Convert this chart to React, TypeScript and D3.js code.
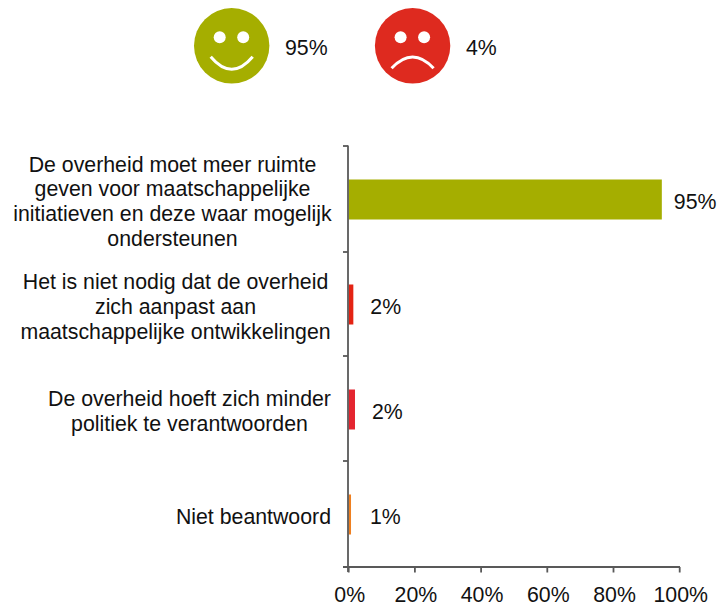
import React from "react";
import * as d3 from "d3";

const categories = ["q1", "q2", "q3", "q4"];
const values = [94.6, 1.4, 1.9, 0.7];
const valueLabels = ["95%", "2%", "2%", "1%"];
const labelOffsets = [12, 17, 17, 19];
const barColors = ["#a5ae00", "#e42313", "#e42530", "#ee7f20"];
const categoryLines = [
  ["De overheid moet meer ruimte", "geven voor maatschappelijke", "initiatieven en deze waar mogelijk", "ondersteunen"],
  ["Het is niet nodig dat de overheid", "zich aanpast aan", "maatschappelijke ontwikkelingen"],
  ["De overheid hoeft zich minder", "politiek te verantwoorden"],
  ["Niet beantwoord"],
];
const categoryLineCenters = [172.5, 175.5, 189.5, 0];
const xTicks = [0, 20, 40, 60, 80, 100];
const yEdges = [146, 252, 356, 461, 567];
const smileys = [
  { label: "95%", color: "#a5ae00", happy: true, cx: 231.7, cy: 45.8, tx: 285 },
  { label: "4%", color: "#de2a1f", happy: false, cx: 412.6, cy: 45.8, tx: 466 },
];

const font = "'Liberation Sans', Arial, sans-serif";
const axisColor = "#595959";
const fs = 21.3;

export default function App() {
  const x = d3.scaleLinear().domain([0, 100]).range([348.7, 679.7]);
  const y = d3.scaleBand().domain(categories).range([147, 567]).paddingInner(0).paddingOuter(0);
  const barH = 40;

  return (
    <svg width={719} height={605} style={{ position: "absolute", left: 0, top: 0, background: "#fff" }} fontFamily={font}>
      {smileys.map((s) => (
        <g key={s.label}>
          <circle cx={s.cx} cy={s.cy} r={37.7} fill={s.color} />
          <circle cx={s.cx - 12} cy={s.cy - 8.5} r={6} fill="#fff" />
          <circle cx={s.cx + 11.5} cy={s.cy - 8.5} r={6} fill="#fff" />
          <path
            d={
              s.happy
                ? `M${s.cx - 21},${s.cy + 11} Q${s.cx},${s.cy + 36} ${s.cx + 21},${s.cy + 11}`
                : `M${s.cx - 21},${s.cy + 22.5} Q${s.cx},${s.cy + 0} ${s.cx + 21},${s.cy + 22.5}`
            }
            fill="none"
            stroke="#fff"
            strokeWidth={3}
          />
          <text x={s.tx} y={s.cy + 9} fontSize={fs} fill="#111">{s.label}</text>
        </g>
      ))}

      {categories.map((c, i) => {
        const mid = (y(c) as number) + y.bandwidth() / 2;
        return (
          <g key={c}>
            <rect x={x(0)} y={mid - barH / 2} width={x(values[i]) - x(0)} height={barH} fill={barColors[i]} />
            <text x={x(values[i]) + labelOffsets[i]} y={mid + 9.2} fontSize={fs} fill="#111">{valueLabels[i]}</text>
            {categoryLines[i].map((t, j) => {
              const n = categoryLines[i].length;
              return (
                <text
                  key={j}
                  x={categoryLineCenters[i] || 331}
                  y={mid + 9.2 + (j - (n - 1) / 2) * 24.8}
                  fontSize={fs}
                  fill="#111"
                  textAnchor={categoryLineCenters[i] ? "middle" : "end"}
                >
                  {t}
                </text>
              );
            })}
          </g>
        );
      })}

      <g stroke={axisColor} strokeWidth={1.8} fill="none">
        <line x1={348} x2={348} y1={145.5} y2={572} />
        <line x1={343} x2={680} y1={567} y2={567} />
        {yEdges.map((e) => (
          <line key={e} x1={343} x2={348} y1={e} y2={e} />
        ))}
        {xTicks.map((t) => (
          <line key={t} x1={x(t)} x2={x(t)} y1={567} y2={572.5} />
        ))}
      </g>
      {xTicks.map((t) => (
        <text key={t} x={x(t) + 1} y={601.5} fontSize={fs} textAnchor="middle" fill="#111">{t}%</text>
      ))}
    </svg>
  );
}
